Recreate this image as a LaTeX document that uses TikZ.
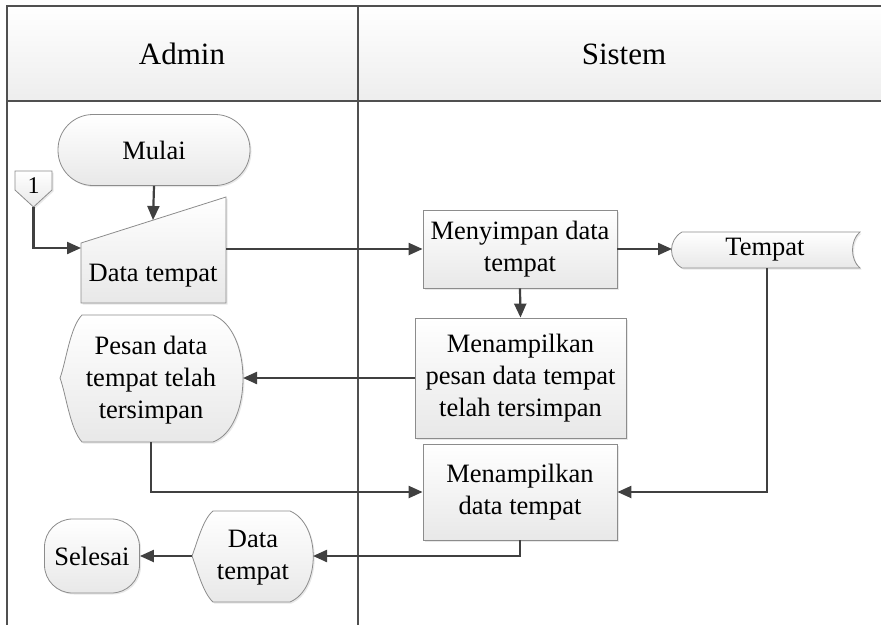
\documentclass[tikz,border=0pt]{standalone}
\usepackage{fontspec}
\setmainfont{Liberation Serif}
\usetikzlibrary{arrows.meta,shadows}
\definecolor{ln}{HTML}{404040}
\definecolor{bd}{HTML}{8C8C8C}
\definecolor{fr}{HTML}{505050}
\tikzset{
  shp/.style={draw=bd, line width=0.8pt, top color=white, bottom color=black!9,
    drop shadow={opacity=0.18,shadow xshift=1.5pt,shadow yshift=-1.5pt}},
  proc/.style={shp, rectangle, align=center, font=\fontsize{26.5}{32}\selectfont, inner sep=0pt},
  lbl/.style={align=center, font=\fontsize{26.5}{32}\selectfont, inner sep=0pt},
  flow/.style={draw=ln, line width=2.2pt, -{Triangle[length=14pt,width=12pt]}},
  hdr/.style={font=\fontsize{31}{36}\selectfont, inner sep=0pt},
}
\begin{document}
\begin{tikzpicture}[x=1pt,y=-1pt]
\useasboundingbox (0,0) rectangle (881,624);
\begin{scope}
  \clip (0,0) rectangle (881,624);
  \path[top color=white,bottom color=black!7] (7,6) rectangle (895,101);
  \draw[fr, line width=2.2pt] (7,640) -- (7,6) -- (895,6);
  \draw[fr, line width=2.6pt] (7,101) -- (895,101);
  \draw[fr, line width=1.6pt] (358,6) -- (358,640);
\end{scope}
\node[hdr] (admin) at (182,54) {Admin};
\node[hdr] (sistem) at (624,54) {Sistem};

% Mulai
\node[proc, rounded corners=35pt, minimum width=192pt, minimum height=71pt] (mulai) at (154,150) {Mulai};

% manual input
\path[shp] (81,303) -- (226,303) -- (226,197) -- (81,243) -- cycle;
\node[lbl] (inp) at (153,276) {Data tempat};
\coordinate (inptop) at (153,220);
\coordinate (inpl) at (81,248);
\coordinate (inpr) at (226,249);

% off-page connector
\path[shp] (15,171) -- (52,171) -- (52,190) -- (33.5,207) -- (15,190) -- cycle;
\node[lbl, font=\fontsize{24}{28}\selectfont] (off) at (33.5,186) {1};
\coordinate (offb) at (33.5,207);

% Menyimpan
\node[proc, minimum width=194pt, minimum height=78pt] (simpan) at (520,249) {Menyimpan data\\tempat};

% Tempat stored data
\path[shp] (682,232) -- (860,232) .. controls (850,240) and (850,260) .. (860,268) -- (682,268) .. controls (668,260) and (668,240) .. (682,232) -- cycle;
\node[lbl] (tempat) at (765,250) {Tempat};
\coordinate (templ) at (672,249);
\coordinate (tempb) at (767,268);

% Menampilkan pesan
\node[proc, minimum width=211pt, minimum height=120pt] (pesanbox) at (520.5,378) {Menampilkan\\pesan data tempat\\telah tersimpan};

% Menampilkan data tempat
\node[proc, minimum width=194pt, minimum height=96pt] (tampil) at (520,492) {Menampilkan\\data tempat};

% Pesan display
\path[shp] (82,315) -- (213,315) .. controls (253,330) and (253,427) .. (213,442) -- (82,442) .. controls (70,429) and (66,394) .. (60,378) .. controls (66,362) and (70,327) .. (82,315) -- cycle;
\node[lbl] (pesan) at (151,380) {Pesan data\\tempat telah\\tersimpan};
\coordinate (pesanr) at (243,378);
\coordinate (pesanb) at (151,442);

% Data tempat display
\path[shp] (213,511) -- (290,511) .. controls (321,524) and (321,589) .. (290,602) -- (213,602) .. controls (203,593) and (197,569) .. (192,556) .. controls (197,543) and (203,519) .. (213,511) -- cycle;
\node[lbl] (dt) at (253,558) {Data\\tempat};
\coordinate (dtr) at (313,556);
\coordinate (dtl) at (192,556);

% Selesai
\node[proc, rounded corners=28pt, minimum width=95pt, minimum height=74pt] (selesai) at (92,556) {Selesai};

% connectors
\draw[flow] (mulai.south) -- (inptop);
\draw[flow] (offb) |- (inpl);
\draw[flow] (inpr) -- (simpan.west);
\draw[flow] (simpan.east) -- (templ);
\draw[flow] (simpan.south) -- (pesanbox.north);
\draw[flow] (pesanbox.west) -- (pesanr);
\draw[flow] (pesanb) |- (tampil.west);
\draw[flow] (tempb) |- (tampil.east);
\draw[flow] (tampil.south) |- (dtr);
\draw[flow] (dtl) -- (selesai.east);
\end{tikzpicture}
\end{document}
